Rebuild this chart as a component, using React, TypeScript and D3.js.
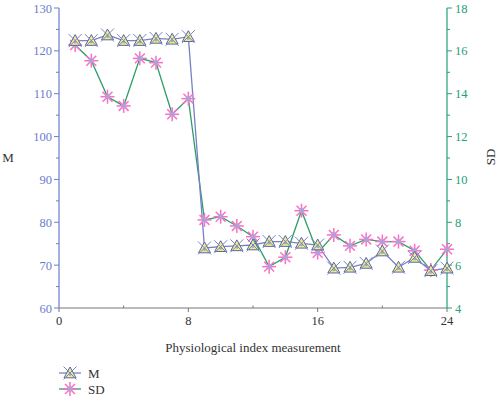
import React from "react";
import * as d3 from "d3";

const xs = [1,2,3,4,5,6,7,8,9,10,11,12,13,14,15,16,17,18,19,20,21,22,23,24];
const mValues = [122.4,122.4,123.7,122.4,122.4,122.9,122.7,123.3,74.0,74.3,74.5,74.7,75.5,75.5,75.1,74.7,69.3,69.5,70.4,73.3,69.5,71.8,68.7,69.3];
const sdValues = [16.27,15.54,13.86,13.43,15.65,15.45,13.04,13.77,8.11,8.26,7.83,7.33,5.93,6.37,8.54,6.58,7.41,6.9,7.2,7.1,7.1,6.67,5.77,6.74];
const xTicks = [0,8,16,24];
const xMinor = [4,12,20];
const leftTicks = [60,70,80,90,100,110,120,130];
const rightTicks = [4,6,8,10,12,14,16,18];

const W = 500, H = 399;
const X0 = 59, X1 = 447, Y0 = 8, Y1 = 308;
const FONT = "'Liberation Serif', 'DejaVu Serif', serif";
const BLUE = "#6b7ccc";
const GREEN = "#23a07a";
const MLINE = "#7681c4";
const SDLINE = "#2e9e68";

function MMarker({ x, y }: { x: number; y: number }) {
  const t = 6;
  const pts = `${x},${y - t} ${x - t},${y + t * 0.8} ${x + t},${y + t * 0.8}`;
  const c = 6.5;
  return (
    <g>
      <polygon points={pts} fill="#eeee88" stroke="#5a64a8" strokeWidth={1} />
      <circle cx={x} cy={y + 1.5} r={1.5} fill="#8a90c0" opacity={0.7} />
      <line x1={x - c} y1={y - c} x2={x + c} y2={y + c} stroke="#7884c8" strokeWidth={1} />
      <line x1={x - c} y1={y + c} x2={x + c} y2={y - c} stroke="#7884c8" strokeWidth={1} />
    </g>
  );
}

function SDMarker({ x, y }: { x: number; y: number }) {
  const r = 7;
  const angles = [0, 45, 90, 135];
  return (
    <g>
      {angles.map((a) => {
        const rad = (a * Math.PI) / 180;
        const dx = Math.cos(rad) * r, dy = Math.sin(rad) * r;
        return <line key={a} x1={x - dx} y1={y - dy} x2={x + dx} y2={y + dy} stroke="#ff6ec2" strokeWidth={1.5} />;
      })}
      <rect x={x - 2.5} y={y - 2.5} width={5} height={5} fill="#a9a6dc" opacity={0.85} />
    </g>
  );
}

export default function App() {
  const x = d3.scaleLinear().domain([0, 24]).range([X0, X1]);
  const yL = d3.scaleLinear().domain([60, 130]).range([Y1, Y0]);
  const yR = d3.scaleLinear().domain([4, 18]).range([Y1, Y0]);
  const mLine = d3.line<number>().x((_, i) => x(xs[i])).y((d) => yL(d));
  const sdLine = d3.line<number>().x((_, i) => x(xs[i])).y((d) => yR(d));
  const leftMinor = d3.range(65, 130, 10);
  const rightMinor = d3.range(5, 18, 2);

  return (
    <svg width={W} height={H} style={{ position: "absolute", left: 0, top: 0, background: "#fff" }} fontFamily={FONT}>
      {/* bottom axis */}
      <line x1={X0} x2={X1} y1={Y1} y2={Y1} stroke="#777" strokeWidth={1} />
      {xTicks.map((t) => (
        <g key={"xt" + t}>
          <line x1={x(t)} x2={x(t)} y1={Y1} y2={Y1 + 4} stroke="#777" />
          <text x={x(t)} y={Y1 + 17} fontSize={12.5} textAnchor="middle" fill="#333">{t}</text>
        </g>
      ))}
      {xMinor.map((t) => (
        <line key={"xm" + t} x1={x(t)} x2={x(t)} y1={Y1} y2={Y1 - 2.5} stroke="#777" />
      ))}
      <text x={(X0 + X1) / 2} y={352} fontSize={13} textAnchor="middle" fill="#333">Physiological index measurement</text>

      {/* left axis */}
      <line x1={X0} x2={X0} y1={Y0} y2={Y1} stroke={BLUE} strokeWidth={1.2} />
      {leftTicks.map((t) => (
        <g key={"lt" + t}>
          <line x1={X0 - 5} x2={X0} y1={yL(t)} y2={yL(t)} stroke={BLUE} />
          <text x={X0 - 7} y={yL(t) + 4.5} fontSize={12.5} textAnchor="end" fill={BLUE}>{t}</text>
        </g>
      ))}
      {leftMinor.map((t) => (
        <line key={"lm" + t} x1={X0 - 3} x2={X0} y1={yL(t)} y2={yL(t)} stroke={BLUE} />
      ))}
      <text x={8} y={162} fontSize={13} textAnchor="middle" fill="#333">M</text>

      {/* right axis */}
      <line x1={X1} x2={X1} y1={Y0} y2={Y1} stroke={GREEN} strokeWidth={1.2} />
      {rightTicks.map((t) => (
        <g key={"rt" + t}>
          <line x1={X1} x2={X1 + 5} y1={yR(t)} y2={yR(t)} stroke={GREEN} />
          <text x={X1 + 8} y={yR(t) + 4.5} fontSize={12.5} textAnchor="start" fill={GREEN}>{t}</text>
        </g>
      ))}
      {rightMinor.map((t) => (
        <line key={"rm" + t} x1={X1} x2={X1 + 3} y1={yR(t)} y2={yR(t)} stroke={GREEN} />
      ))}
      <text transform={`translate(495,157) rotate(-90)`} fontSize={13} textAnchor="middle" fill="#333">SD</text>

      {/* series lines */}
      <path d={sdLine(sdValues) || ""} fill="none" stroke={SDLINE} strokeWidth={1.3} />
      <path d={mLine(mValues) || ""} fill="none" stroke={MLINE} strokeWidth={1.3} />

      {/* markers */}
      {sdValues.map((v, i) => <SDMarker key={"s" + i} x={x(xs[i])} y={yR(v)} />)}
      {mValues.map((v, i) => <MMarker key={"m" + i} x={x(xs[i])} y={yL(v)} />)}

      {/* legend */}
      <line x1={59} x2={81} y1={373} y2={373} stroke={MLINE} strokeWidth={1.3} />
      <MMarker x={70} y={373} />
      <text x={88} y={377.5} fontSize={13} fill="#333">M</text>
      <line x1={59} x2={81} y1={389} y2={389} stroke={SDLINE} strokeWidth={1.3} />
      <SDMarker x={70} y={389} />
      <text x={88} y={393.5} fontSize={13} fill="#333">SD</text>
    </svg>
  );
}
